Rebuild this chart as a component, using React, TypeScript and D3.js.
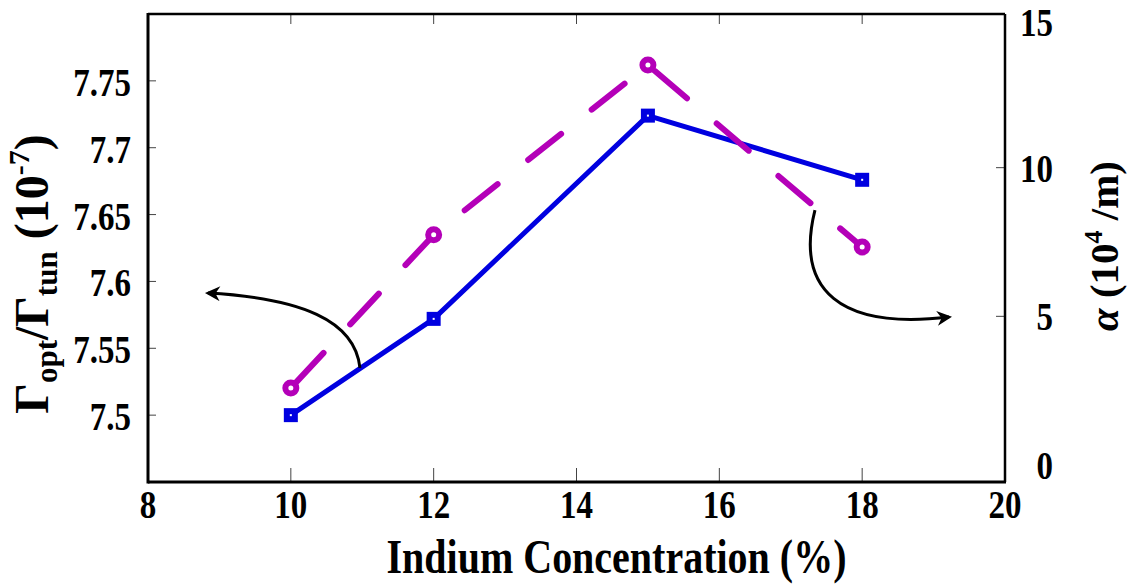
import React from "react";
import * as d3 from "d3";

const indium = [10, 12, 15, 18];
const gammaRatio = [7.5, 7.572, 7.724, 7.676];
const alpha = [2.59, 7.74, 13.45, 7.33];
const xTicks = [8, 10, 12, 14, 16, 18, 20];
const leftTicks = [7.5, 7.55, 7.6, 7.65, 7.7, 7.75];
const leftTickLabels = ["7.5", "7.55", "7.6", "7.65", "7.7", "7.75"];
const rightTicks = [0, 5, 10, 15];
// annotation arrows in data coords (x, left-axis y)
const arrowLeft = [[10.968, 7.5353], [10.898, 7.5712], [10.128, 7.5876], [8.84, 7.5913]];
const arrowRight = [[17.339, 7.6534], [17.059, 7.5936], [17.689, 7.5637], [19.216, 7.5734]];

const W = 1130, H = 588;
const BLUE = "#0000e0";
const MAG = "#b400b8";
const FONT = "'Liberation Serif', 'Times New Roman', serif";

export default function App() {
  const x = d3.scaleLinear().domain([8, 20]).range([148, 1005]);
  const yL = d3.scaleLinear().domain([7.45, 7.8]).range([482, 14]);
  const yR = d3.scaleLinear().domain([0, 15]).range([465, 19]);
  const [x0, x1] = x.range();
  const [yb, yt] = yL.range();

  const blueLine = d3.line<number>().x((_, i) => x(indium[i])).y((d) => yL(d))(gammaRatio) || "";
  const magLine = d3.line<number>().x((_, i) => x(indium[i])).y((d) => yR(d))(alpha) || "";
  const arrowPath = (pts: number[][]) => {
    const p = pts.map(([a, b]) => [x(a), yL(b)]);
    return `M${p[0][0]},${p[0][1]} C${p[1][0]},${p[1][1]} ${p[2][0]},${p[2][1]} ${p[3][0]},${p[3][1]}`;
  };

  return (
    <svg width={W} height={H} style={{ position: "absolute", left: 0, top: 0, background: "#fff" }} fontFamily={FONT} fontWeight="bold">
      <defs>
        <marker id="ah" viewBox="0 0 10 10" refX="8" refY="5" markerWidth="6" markerHeight="5" orient="auto" markerUnits="strokeWidth">
          <path d="M0,0 L10,5 L0,10 L3,5 z" fill="#000" />
        </marker>
      </defs>
      {/* ticks */}
      {xTicks.slice(1, -1).map((t) => (
        <g key={"xt" + t}>
          <line x1={x(t)} x2={x(t)} y1={yb} y2={yb - 14} stroke="#444" strokeWidth={1} />
          <line x1={x(t)} x2={x(t)} y1={yt} y2={yt + 10} stroke="#444" strokeWidth={1} />
        </g>
      ))}
      {leftTicks.map((t) => (
        <line key={"lt" + t} x1={x0} x2={x0 + 8} y1={yL(t)} y2={yL(t)} stroke="#444" strokeWidth={1} />
      ))}
      {[5, 10].map((t) => (
        <line key={"rt" + t} x1={x1} x2={x1 - 9} y1={yR(t)} y2={yR(t)} stroke="#444" strokeWidth={1} />
      ))}
      {/* frame */}
      <line x1={x0} x2={x1} y1={yt} y2={yt} stroke="#000" strokeWidth={2.5} />
      <line x1={x1} x2={x1} y1={yt} y2={yb} stroke="#000" strokeWidth={2.5} />
      <line x1={x0} x2={x1 + 1} y1={yb} y2={yb} stroke="#000" strokeWidth={3} />
      <line x1={x0} x2={x0} y1={yt - 1} y2={yb + 1.5} stroke="#000" strokeWidth={3} />

      {/* blue series */}
      <path d={blueLine} fill="none" stroke={BLUE} strokeWidth={5} strokeLinejoin="round" />
      {gammaRatio.map((v, i) => (
        <rect key={"bs" + i} x={x(indium[i]) - 4} y={yL(v) - 4} width={8} height={8} fill="#fff" stroke={BLUE} strokeWidth={6} />
      ))}
      {/* magenta series */}
      <path d={magLine} fill="none" stroke={MAG} strokeWidth={6} strokeLinecap="round" strokeDasharray="42 39" strokeDashoffset={75} />
      {alpha.map((v, i) => (
        <circle key={"mc" + i} cx={x(indium[i])} cy={yR(v)} r={5.5} fill="#fff" stroke={MAG} strokeWidth={6} />
      ))}

      {/* annotation arrows */}
      <path d={arrowPath(arrowLeft)} fill="none" stroke="#000" strokeWidth={3} markerEnd="url(#ah)" />
      <path d={arrowPath(arrowRight)} fill="none" stroke="#000" strokeWidth={3} markerEnd="url(#ah)" />

      {/* tick labels */}
      {xTicks.map((t) => (
        <text key={"xl" + t} transform={`translate(${x(t)},518) scale(1,1.2)`} textAnchor="middle" fontSize={33}>{t}</text>
      ))}
      {leftTicks.map((t, i) => (
        <text key={"ll" + t} transform={`translate(131,${yL(t) + 15}) scale(1,1.2)`} textAnchor="end" fontSize={33}>{leftTickLabels[i]}</text>
      ))}
      {rightTicks.map((t) => (
        <text key={"rl" + t} transform={`translate(1053,${yR(t) + (t === 15 ? 17 : 14)}) scale(1,1.2)`} textAnchor="end" fontSize={33}>{t}</text>
      ))}

      {/* axis titles */}
      <text transform={`translate(${(x0 + x1) / 2 + 40},573) scale(1,1.2)`} textAnchor="middle" fontSize={40}>Indium Concentration (%)</text>
      <text transform="translate(48,274) rotate(-90)" textAnchor="middle" fontSize={48}>
        Γ<tspan fontSize={31} dy={9}>opt</tspan><tspan dy={-9}>/Γ</tspan><tspan fontSize={31} dy={9}>tun</tspan><tspan dy={-9}> (10</tspan><tspan fontSize={30} dy={-19}>-7</tspan><tspan dy={19}>)</tspan>
      </text>
      <text transform="translate(1118,246) rotate(-90)" textAnchor="middle" fontSize={41}>
        <tspan fontStyle="italic">α</tspan> (10<tspan fontSize={26} dy={-16}>4</tspan><tspan dy={16}> /m)</tspan>
      </text>
    </svg>
  );
}
